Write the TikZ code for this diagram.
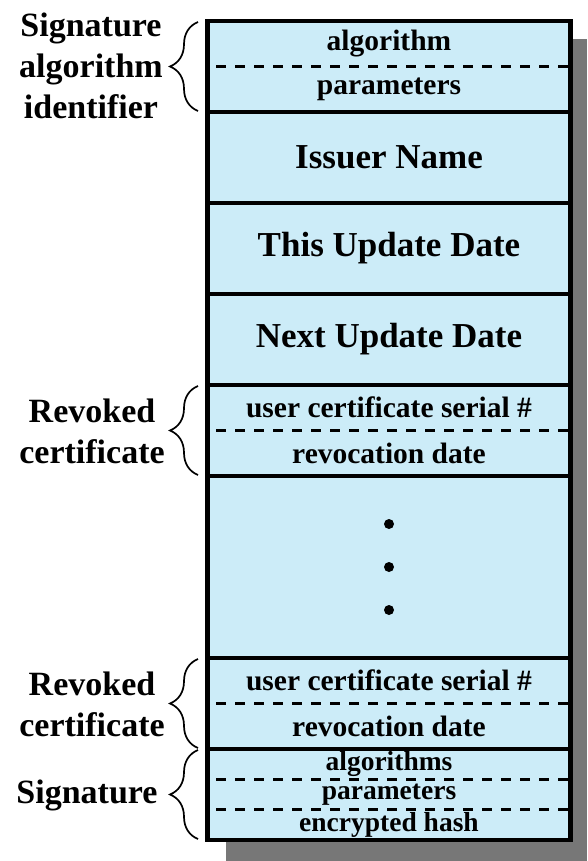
\documentclass[tikz,border=0pt]{standalone}
\usepackage{fontspec}
\setmainfont{Liberation Serif}
\usetikzlibrary{positioning,calc,decorations.pathreplacing}
\definecolor{cell}{HTML}{CCECF8}
\definecolor{shadowgrey}{HTML}{777777}
\tikzset{
  field/.style={draw=black, fill=cell, line width=4.5pt, minimum width=363pt, minimum height=#1, inner sep=0pt, outer sep=0pt, align=center},
  field/.default=91pt,
  big/.style={font=\fontsize{35}{38}\selectfont\bfseries},
  small/.style={font=\fontsize{29.5}{32}\selectfont\bfseries},
  tiny/.style={font=\fontsize{27.5}{30}\selectfont\bfseries},
  side/.style={font=\fontsize{34}{41}\selectfont\bfseries, align=center},
  sep/.style={line width=2.5pt, dash pattern=on 9.5pt off 9.5pt, dash phase=10.5pt},
  brc/.style={decorate, decoration={brace, amplitude=28pt}, line width=1.7pt},
}

\begin{document}
\begin{tikzpicture}[x=1pt, y=-1pt]
    \useasboundingbox (0,0) rectangle (587,861);
    % drop shadow behind the list
    \fill[shadowgrey] (226,39) rectangle (587,861);

    % the fields of the list, top to bottom
    \node[field] (algid) at (389,66.5) {};
    \node[field, below=0pt of algid, big] (issuer) {Issuer Name};
    \node[field, below=0pt of issuer, big] (thisupd) {This Update Date};
    \node[field, below=0pt of thisupd, big] (nextupd) {Next Update Date};
    \node[field, below=0pt of nextupd] (revone) {};
    \node[field=182pt, below=0pt of revone] (more) {};
    \node[field, below=0pt of more] (revtwo) {};
    \node[field, below=0pt of revtwo] (sig) {};

    % split fields
    \draw[sep] (algid.west) -- (algid.east);
    \node[small] (algname) at ($(algid.north)!0.25!(algid.south)$) {algorithm};
    \node[small] (algpar) at ($(algid.north)!0.75!(algid.south)$) {parameters};
    \foreach \rev in {revone,revtwo} {
      \draw[sep] (\rev.west) -- (\rev.east);
      \node[small] (\rev-serial) at ($(\rev.north)!0.25!(\rev.south)$) {user certificate serial \#};
      \node[small] (\rev-date) at ($(\rev.north)!0.75!(\rev.south)$) {revocation date};
    }
    \draw[sep] ($(sig.north west)!1/3!(sig.south west)$) -- ($(sig.north east)!1/3!(sig.south east)$);
    \draw[sep] ($(sig.north west)!2/3!(sig.south west)$) -- ($(sig.north east)!2/3!(sig.south east)$);
    \node[tiny] (sigalg) at ($(sig.north)!1/6!(sig.south)$) {algorithms};
    \node[tiny] (sigpar) at (sig.center) {parameters};
    \node[tiny] (sighash) at ($(sig.north)!5/6!(sig.south)$) {encrypted hash};

    % ellipsis
    \foreach \d in {-43,0,43}
      \fill ($(more.center)+(0,\d)$) circle (5pt);

    % braces and their labels
    \foreach \part in {algid,revone,revtwo,sig}
      \draw[brc] ($(\part.south west)+(-9.5,-1)$) -- ($(\part.north west)+(-9.5,1)$);
    \node[side] (algidlab) at (91,66) {Signature\\algorithm\\identifier};
    \node[side] (revonelab) at (92,431) {Revoked\\certificate};
    \node[side] (revtwolab) at (92,704) {Revoked\\certificate};
    \node[side] (siglab) at (87,795) {Signature};
  \end{tikzpicture}
\end{document}
